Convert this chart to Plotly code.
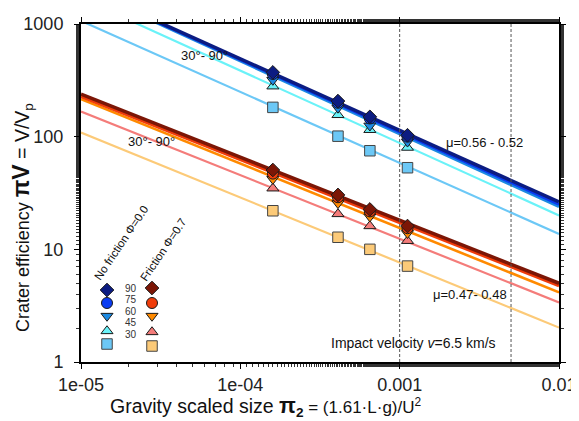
import plotly.graph_objects as go

# ---------------- data ----------------
angles = [90, 75, 60, 45, 30]
x_pts = [1.6e-4, 4.1e-4, 6.5e-4, 1.12e-3]

# No friction (phi = 0.0), measured crater efficiency per angle
nf_y = {
    90: [372, 207, 150, 103],
    75: [360, 200, 145, 100],
    60: [318, 180, 125, 90],
    45: [280, 156, 115, 80],
    30: [182, 101, 75, 53],
}
# Friction (phi = 0.7)
fr_y = {
    90: [50.6, 30.4, 22.6, 16.1],
    75: [47.0, 29.0, 21.7, 15.4],
    60: [42.0, 25.6, 19.5, 13.9],
    45: [34.8, 20.6, 16.1, 11.9],
    30: [22.0, 12.8, 10.0, 7.1],
}
# Fit lines: value at x=1e-5 and at x=0.01
line_x = [1e-5, 1e-2]
nf_line = {90: [2123, 26.3], 75: [2113, 25.1], 60: [2080, 23.9], 45: [1693, 20.0], 30: [1066, 13.7]}
fr_line = {90: [238, 5.0], 75: [227, 4.75], 60: [215, 4.15], 45: [167, 3.38], 30: [109, 2.02]}

vlines_x = [0.001, 0.005]
x_tickvals = [1e-5, 1e-4, 1e-3, 1e-2]
x_ticktext = ["1e-05", "1e-04", "0.001", "0.01"]
y_tickvals = [1, 10, 100, 1000]
y_ticktext = ["1", "10", "100", "1000"]

# ---------------- style ----------------
FONT = "Liberation Sans, Arial, sans-serif"
OFF = 8                      # page body margin
W, H = 579 - OFF, 421 - OFF
PL, PR, PT, PB = 81, 559, 24, 362   # plot area in page pixels
L, T = PL - OFF, PT - OFF
R = W - L - (PR - PL)
B = H - T - (PB - PT)

symbols = {90: "diamond", 75: "circle", 60: "triangle-down", 45: "triangle-up", 30: "square"}
msize = {90: 10.5, 75: 11, 60: 10.5, 45: 10.5, 30: 10.5}
nf_col = {90: "#0c1c82", 75: "#0a3cf2", 60: "#1c8ae2", 45: "#6af2f8", 30: "#6cc8f6"}
fr_col = {90: "#7c1606", 75: "#f03c0a", 60: "#ff8a00", 45: "#f47c7a", 30: "#fcca78"}
nf_lw = {90: 3.5, 75: 3, 60: 3, 45: 2.2, 30: 2.2}
fr_lw = {90: 3.5, 75: 3, 60: 2.6, 45: 2.2, 30: 2.2}

def px(xp):
    return (xp - PL) / (PR - PL)

def py(yp):
    return 1 - (yp - PT) / (PB - PT)

fig = go.Figure()

# lines (draw lighter first)
for a in [30, 45, 60, 75, 90]:
    fig.add_trace(go.Scatter(x=line_x, y=fr_line[a], mode="lines",
                             line=dict(color=fr_col[a], width=fr_lw[a]), hoverinfo="skip"))
for a in [30, 45, 60, 75, 90]:
    fig.add_trace(go.Scatter(x=line_x, y=nf_line[a], mode="lines",
                             line=dict(color=nf_col[a], width=nf_lw[a]), hoverinfo="skip"))

# points
for grp_y, grp_col in [(fr_y, fr_col), (nf_y, nf_col)]:
    for a in [30, 45, 60, 75, 90]:
        edge = "#444444" if a == 30 else "#1a1a1a"
        fig.add_trace(go.Scatter(x=x_pts, y=grp_y[a], mode="markers",
                                 marker=dict(symbol=symbols[a], size=msize[a], color=grp_col[a],
                                             line=dict(color=edge, width=1))))

# custom legend on overlay pixel axes
leg_nf_x, leg_fr_x = 107, 152
leg_nf_y = {90: 290, 75: 303, 60: 316, 45: 331, 30: 344}
leg_fr_y = {90: 288, 75: 303, 60: 316, 45: 332, 30: 346}
for a in angles:
    for xx, yy, col in [(leg_nf_x, leg_nf_y[a], nf_col[a]), (leg_fr_x, leg_fr_y[a], fr_col[a])]:
        edge = "#444444" if a == 30 else "#1a1a1a"
        fig.add_trace(go.Scatter(x=[xx], y=[yy], xaxis="x2", yaxis="y2", mode="markers",
                                 marker=dict(symbol=symbols[a], size=msize[a], color=col,
                                             line=dict(color=edge, width=1)),
                                 hoverinfo="skip"))

def ann(x, y, text, size, color="#111111", angle=0):
    return dict(x=px(x), y=py(y), xref="paper", yref="paper", text=text, showarrow=False,
                xanchor="center", yanchor="middle", textangle=angle,
                font=dict(size=size, color=color, family=FONT))

annots = []
num_y = {90: 288, 75: 299, 60: 311, 45: 322, 30: 334}
for a in angles:
    annots.append(ann(131, num_y[a], str(a), 10, "#333333"))
annots.append(ann(121, 243, "No friction Φ=0.0", 11.5, angle=-56))
annots.append(ann(163, 250, "Friction Φ=0.7", 11.5, angle=-56))

annots += [
    ann(204, 55, "30°- 90°", 13),
    ann(151, 141, "30°- 90°", 13),
    ann(484, 142, "μ=0.56 - 0.52", 13),
    ann(470, 294, "μ=0.47- 0.48", 13),
    ann(413, 343, "Impact velocity <i>v</i>=6.5 km/s", 14),
]

# axis titles
annots.append(ann(266, 406,
                  "Gravity scaled size <b><span style='font-size:22px'>π</span><sub>2</sub></b>"
                  "<span style='font-size:17px'> = (1.61·L·g)/U<sup>2</sup></span>", 19.5))
annots.append(ann(22, 218,
                  "Crater efficiency <b><span style='font-size:23px'>πV</span></b>"
                  "<span style='font-size:19.5px'> = V/V<sub>p</sub></span>",
                  18, angle=-90))

shapes = []
for xv in vlines_x:
    shapes.append(dict(type="line", xref="x", yref="paper", x0=xv, x1=xv, y0=0, y1=1,
                       line=dict(color="#555555", width=1, dash="3px,2px")))
shapes.append(dict(type="line", xref="paper", yref="paper", x0=px(3), x1=px(3), y0=py(8), y1=py(418),
                   line=dict(color="#d4d4d4", width=1)))

axis_common = dict(showline=True, linecolor="black", linewidth=2, mirror="allticks",
                   ticks="outside", ticklen=5, tickwidth=1, tickcolor="black",
                   showgrid=False, zeroline=False, automargin=False,
                   tickfont=dict(size=18, color="#222222", family=FONT),
                   minor=dict(ticks="outside", ticklen=3, tickwidth=1, tickcolor="#333333", showgrid=False))

fig.update_layout(
    width=W, height=H,
    margin=dict(l=L, r=R, t=T, b=B, autoexpand=False),
    plot_bgcolor="white", paper_bgcolor="white",
    showlegend=False,
    font=dict(family=FONT),
    xaxis=dict(type="log", range=[-5, -2], tickvals=x_tickvals, ticktext=x_ticktext, **axis_common),
    yaxis=dict(type="log", range=[0, 3], tickvals=y_tickvals, ticktext=y_ticktext,
               ticklabelstandoff=7, **axis_common),
    xaxis2=dict(overlaying="x", range=[PL, PR], visible=False, fixedrange=True),
    yaxis2=dict(overlaying="y", range=[PB, PT], visible=False, fixedrange=True),
    annotations=annots,
    shapes=shapes,
)

fig.write_html("out.html")
